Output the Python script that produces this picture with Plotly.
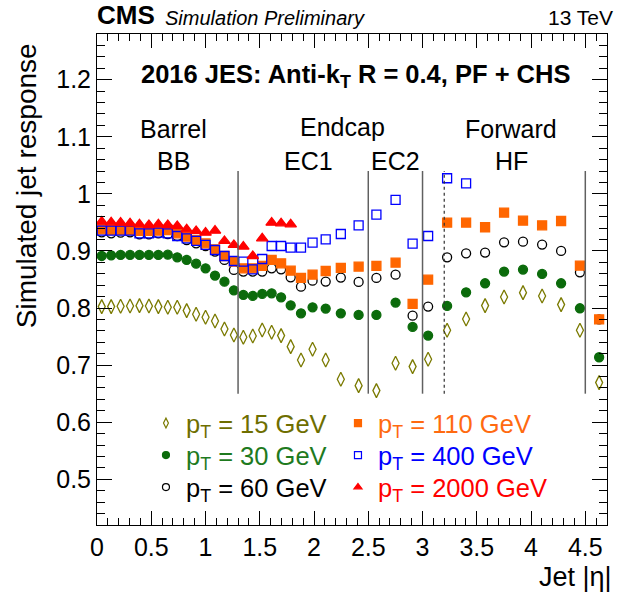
import plotly.graph_objects as go

# eta bin centres
eta = [0.0435, 0.1305, 0.2175, 0.3045, 0.3915, 0.4785, 0.5655, 0.6525, 0.7395, 0.8265,
       0.9135, 1.0005, 1.0875, 1.1745, 1.2615, 1.3485, 1.4355, 1.5225, 1.6095, 1.6965,
       1.785, 1.88, 1.9865, 2.1075, 2.247, 2.411, 2.575, 2.7515, 2.9085, 3.0515,
       3.2265, 3.4015, 3.5765, 3.7515, 3.926, 4.102, 4.277, 4.4505, 4.6275]

resp_15 = [0.8025, 0.8025, 0.803, 0.8036, 0.8042, 0.8036, 0.8025, 0.8013, 0.8013, 0.7955,
           0.789, 0.7838, 0.7774, 0.7634, 0.7529, 0.7488, 0.7511, 0.7616, 0.7575, 0.7517,
           0.7324, 0.7091, 0.7278, 0.7091, 0.6752, 0.6641, 0.6554, 0.7032, 0.6974, 0.7103,
           0.761, 0.7809, 0.8043, 0.8194, 0.827, 0.8212, 0.806, 0.761, 0.6694]
resp_30 = [0.8912, 0.8924, 0.893, 0.893, 0.893, 0.893, 0.893, 0.8935, 0.8889, 0.8842,
           0.8778, 0.8696, 0.8568, 0.8462, 0.831, 0.8229, 0.8212, 0.8247, 0.8258, 0.8188,
           0.8048, 0.7908, 0.8013, 0.799, 0.7908, 0.7879, 0.7879, 0.8095, 0.767, 0.7517,
           0.8037, 0.8276, 0.8434, 0.8638, 0.8673, 0.8597, 0.8434, 0.7996, 0.7138]
resp_60 = [0.9327, 0.9309, 0.9321, 0.9327, 0.9291, 0.9291, 0.9309, 0.9297, 0.9262, 0.9192,
           0.9134, 0.9087, 0.8988, 0.8842, 0.8667, 0.8638, 0.8638, 0.8638, 0.8696, 0.8679,
           0.8538, 0.8375, 0.848, 0.8463, 0.8533, 0.8457, 0.8527, 0.8585, 0.7867, 0.8025,
           0.8889, 0.8959, 0.8971, 0.9152, 0.9163, 0.9111, 0.9, 0.8626, 0.78]
resp_110 = [0.9379, 0.9367, 0.9367, 0.9367, 0.935, 0.935, 0.9356, 0.9367, 0.9309, 0.925,
            0.9192, 0.9134, 0.9029, 0.8912, 0.8813, 0.8696, 0.8696, 0.8737, 0.8842, 0.8784,
            0.8655, 0.8527, 0.8585, 0.8649, 0.8702, 0.8725, 0.8737, 0.8795, 0.8072, 0.8497,
            0.9496, 0.9496, 0.9415, 0.9671, 0.9531, 0.9449, 0.9525, 0.8743, 0.7803]
resp_400 = [0.9356, 0.9356, 0.9356, 0.9356, 0.9309, 0.9309, 0.9321, 0.9309, 0.9262, 0.9222,
            0.9175, 0.9105, 0.9017, 0.8912, 0.8824, 0.8813, 0.8679, 0.8859, 0.9087, 0.9087,
            0.9058, 0.9058, 0.9146, 0.9204, 0.9297, 0.9449, 0.9636, 0.9893, 0.913, 0.9262,
            1.0273, 1.0185]
resp_2000 = [0.9513, 0.9502, 0.9496, 0.9484, 0.9467, 0.9455, 0.9467, 0.9455, 0.9437, 0.9379,
             0.935, 0.9321, 0.9356, 0.9175, 0.9105, 0.9076, 0.8912, 0.9222, 0.9496, 0.9484,
             0.9467]

series_names = ["15", "30", "60", "110", "400", "2000"]
series_values = [resp_15, resp_30, resp_60, resp_110, resp_400, resp_2000]

region_lines = [1.3, 2.5, 3.0, 4.5]
dashed_line = [3.2]

FONT = "Liberation Sans, Arial, sans-serif"
colors = ["#7a7a00", "#0b6b0b", "#000000", "#ff6600", "#0000ff", "#ff0000"]
text_colors = ["#6e6e00", "#1e7a1e", "#000000", "#ff6a10", "#0000ff", "#ff0000"]
symbols = ["diamond-tall-open", "circle", "circle-open", "square", "square-open", "triangle-up"]
sizes = [10, 9, 9, 9, 9, 10]
legend_ids = ["legend", "legend2", "legend3", "legend4", "legend5", "legend6"]

fig = go.Figure()
for name, vals, c, s, sz in zip(series_names, series_values, colors, symbols, sizes):
    fig.add_trace(go.Scatter(
        x=eta[:len(vals)], y=vals, mode="markers", showlegend=False,
        marker=dict(symbol=s, size=sz, color=c, line=dict(color=c, width=1.3)),
        name=f"pT = {name} GeV",
    ))
# legend keys (no data, key only)
for name, c, tc, s, lid in zip(series_names, colors, text_colors, symbols, legend_ids):
    fig.add_trace(go.Scatter(
        x=[None], y=[None], mode="markers", legend=lid,
        marker=dict(symbol=s, size=7, color=c, line=dict(color=c, width=1.2)),
        name=f"<span style='color:{tc}'>p<sub>T</sub> = {name} GeV</span>",
    ))

shapes = []
for xv in region_lines:
    shapes.append(dict(type="line", xref="x", yref="y", x0=xv, x1=xv, y0=0.65, y1=1.04,
                       line=dict(color="#606060", width=1.5)))
for xv in dashed_line:
    shapes.append(dict(type="line", xref="x", yref="y", x0=xv, x1=xv, y0=0.65, y1=1.04,
                       line=dict(color="#303030", width=1.2, dash="dot")))

region_labels = [("Barrel", 0.707, 1.1136), ("BB", 0.707, 1.0576), ("Endcap", 2.264, 1.117),
                 ("EC1", 1.951, 1.0576), ("EC2", 2.753, 1.0576), ("Forward", 3.813, 1.1136),
                 ("HF", 3.822, 1.0576)]
annotations = []
for t, xv, yv in region_labels:
    annotations.append(dict(text=t, x=xv, y=yv, xref="x", yref="y", showarrow=False,
                            font=dict(family=FONT, size=25, color="black"),
                            xanchor="center", yanchor="middle"))

annotations += [
    dict(text="<b>2016 JES: Anti-k<sub>T</sub> R = 0.4, PF + CHS</b>", x=0.507, y=0.9145,
         xref="paper", yref="paper", showarrow=False, xanchor="center", yanchor="middle",
         font=dict(family=FONT, size=25.5, color="black")),
    dict(text="<b>CMS</b>", x=0, y=1, xref="paper", yref="paper", showarrow=False,
         xanchor="left", yanchor="bottom", yshift=2, xshift=-2,
         font=dict(family=FONT, size=26, color="black")),
    dict(text="<i>Simulation Preliminary</i>", x=0, y=1, xref="paper", yref="paper",
         showarrow=False, xanchor="left", yanchor="bottom", yshift=3, xshift=66,
         font=dict(family=FONT, size=20, color="black")),
    dict(text="13 TeV", x=1, y=1, xref="paper", yref="paper", showarrow=False,
         xanchor="right", yanchor="bottom", yshift=3, xshift=8,
         font=dict(family=FONT, size=21, color="black")),
    dict(text="Simulated jet response", x=0, y=0.69, xref="paper", yref="paper",
         showarrow=False, textangle=-90, xanchor="center", yanchor="middle", xshift=-71,
         font=dict(family=FONT, size=28, color="black")),
    dict(text="Jet |η|", x=1, y=0, xref="paper", yref="paper", showarrow=False,
         xanchor="right", yanchor="middle", xshift=7, yshift=-52,
         font=dict(family=FONT, size=27, color="black")),
]

axis_common = dict(showline=True, linecolor="black", linewidth=1, mirror="allticks",
                   ticks="inside", tickcolor="black", showgrid=False, zeroline=False,
                   tickfont=dict(family=FONT, size=25, color="black"))

legend_common = dict(xanchor="left", yanchor="top", orientation="v",
                     bgcolor="rgba(0,0,0,0)", font=dict(family=FONT, size=25.5),
                     itemsizing="trace", tracegroupgap=0)
legend_x = [0.096, 0.096, 0.096, 0.4725, 0.4725, 0.4725]
legend_y = [0.2546, 0.1894, 0.1242, 0.2546, 0.1894, 0.1242]

layout_legends = {lid: dict(x=lx, y=ly, **legend_common)
                  for lid, lx, ly in zip(legend_ids, legend_x, legend_y)}

fig.update_layout(
    width=618, height=599,
    margin=dict(l=97, r=11, t=34, b=74),
    paper_bgcolor="white", plot_bgcolor="white",
    shapes=shapes, annotations=annotations,
    xaxis=dict(range=[0, 4.7], dtick=0.5, tick0=0, ticklen=14, tickwidth=1,
               minor=dict(dtick=0.1, ticks="inside", ticklen=7, tickcolor="black"),
               **axis_common),
    yaxis=dict(range=[0.42, 1.28], dtick=0.1, tick0=0, ticklen=15, tickwidth=1,
               minor=dict(dtick=0.02, ticks="inside", ticklen=8, tickcolor="black"),
               **axis_common),
    showlegend=True,
    **layout_legends,
)

fig.write_html("out.html")
